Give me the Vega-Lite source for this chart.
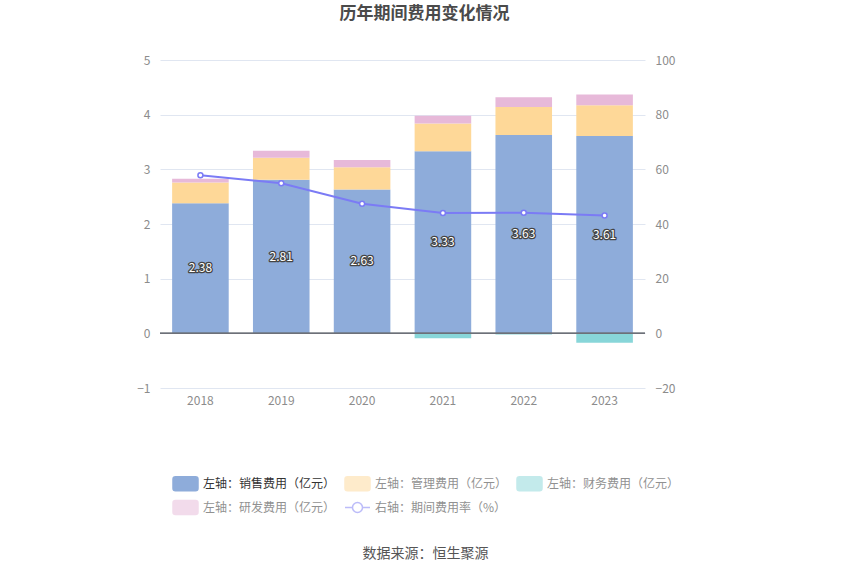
{
  "$schema": "https://vega.github.io/schema/vega-lite/v6.json",
  "width": 485,
  "height": 328,
  "autosize": "none",
  "padding": {"left": 160, "top": 60, "right": 205, "bottom": 187},
  "background": "white",
  "config": {"font": "Noto Sans CJK SC", "view": {"stroke": null}},
  "title": {"text": "历年期间费用变化情况", "fontSize": 17, "fontWeight": "bold", "color": "#4a4a4a", "anchor": "middle", "dx": 22, "offset": 31, "font": "Noto Sans CJK SC"},
  "datasets": {
    "costs": [
      {"year": "2018", "series": "左轴：销售费用（亿元）", "value": 2.38},
      {"year": "2018", "series": "左轴：管理费用（亿元）", "value": 0.38},
      {"year": "2018", "series": "左轴：财务费用（亿元）", "value": -0.01},
      {"year": "2018", "series": "左轴：研发费用（亿元）", "value": 0.07},
      {"year": "2019", "series": "左轴：销售费用（亿元）", "value": 2.81},
      {"year": "2019", "series": "左轴：管理费用（亿元）", "value": 0.40},
      {"year": "2019", "series": "左轴：财务费用（亿元）", "value": -0.005},
      {"year": "2019", "series": "左轴：研发费用（亿元）", "value": 0.13},
      {"year": "2020", "series": "左轴：销售费用（亿元）", "value": 2.63},
      {"year": "2020", "series": "左轴：管理费用（亿元）", "value": 0.41},
      {"year": "2020", "series": "左轴：财务费用（亿元）", "value": 0.0},
      {"year": "2020", "series": "左轴：研发费用（亿元）", "value": 0.13},
      {"year": "2021", "series": "左轴：销售费用（亿元）", "value": 3.33},
      {"year": "2021", "series": "左轴：管理费用（亿元）", "value": 0.51},
      {"year": "2021", "series": "左轴：财务费用（亿元）", "value": -0.09},
      {"year": "2021", "series": "左轴：研发费用（亿元）", "value": 0.14},
      {"year": "2022", "series": "左轴：销售费用（亿元）", "value": 3.63},
      {"year": "2022", "series": "左轴：管理费用（亿元）", "value": 0.51},
      {"year": "2022", "series": "左轴：财务费用（亿元）", "value": -0.02},
      {"year": "2022", "series": "左轴：研发费用（亿元）", "value": 0.18},
      {"year": "2023", "series": "左轴：销售费用（亿元）", "value": 3.61},
      {"year": "2023", "series": "左轴：管理费用（亿元）", "value": 0.56},
      {"year": "2023", "series": "左轴：财务费用（亿元）", "value": -0.17},
      {"year": "2023", "series": "左轴：研发费用（亿元）", "value": 0.20}
    ],
    "rate": [
      {"year": "2018", "rate": 57.8},
      {"year": "2019", "rate": 54.9},
      {"year": "2020", "rate": 47.4},
      {"year": "2021", "rate": 44.0},
      {"year": "2022", "rate": 44.1},
      {"year": "2023", "rate": 43.1}
    ]
  },
  "layer": [
    {
      "layer": [
        {
          "data": {"name": "costs"},
          "mark": {"type": "bar"},
          "encoding": {
            "x": {"field": "year", "type": "nominal", "scale": {"paddingInner": 0.3, "paddingOuter": 0.15},
              "axis": {"orient": "bottom", "domain": false, "ticks": false, "labelAngle": 0, "labelColor": "#8c8c8c", "labelFontSize": 12, "labelPadding": 7,
                "title": "数据来源：恒生聚源", "titleFontSize": 14, "titleFontWeight": "normal", "titleColor": "#555555", "titleX": 265, "titleY": 165, "titleBaseline": "middle", "titleAnchor": "middle", "titleAlign": "center"}},
            "y": {"field": "value", "type": "quantitative", "stack": "zero", "scale": {"domain": [-1, 5], "nice": false},
              "axis": {"orient": "left", "values": [-1, 0, 1, 2, 3, 4, 5], "domain": false, "ticks": false, "grid": true, "gridColor": "#e0e6f1", "labelColor": "#8c8c8c", "labelFontSize": 12, "labelPadding": 10, "title": null}},
            "color": {"field": "series", "type": "nominal",
              "sort": ["左轴：销售费用（亿元）", "左轴：管理费用（亿元）", "左轴：财务费用（亿元）", "左轴：研发费用（亿元）", "右轴：期间费用率（%）"],
              "scale": {"domain": ["左轴：销售费用（亿元）", "左轴：管理费用（亿元）", "左轴：财务费用（亿元）", "左轴：研发费用（亿元）", "右轴：期间费用率（%）"],
                "range": ["#8eacda", "#fed898", "#88d6d9", "#e7b9d9", "#7b7bf5"]},
              "legend": {"orient": "none", "legendX": 12, "legendY": 410, "direction": "horizontal", "columns": 3, "symbolSize": 625,
                "labelFontSize": 12, "labelOffset": 4, "columnPadding": 6, "rowPadding": 0, "title": null, "labelLimit": 300,
                "encode": {
                  "symbols": {"update": {
                    "shape": {"signal": "datum.value === '右轴：期间费用率（%）' ? 'M-1,0H-0.4M0.4,0H1M0.4,0A0.4,0.4,0,1,1,-0.4,0A0.4,0.4,0,1,1,0.4,0' : 'M-0.8,-0.56H0.8A0.2,0.2,0,0,1,1,-0.36V0.36A0.2,0.2,0,0,1,0.8,0.56H-0.8A0.2,0.2,0,0,1,-1,0.36V-0.36A0.2,0.2,0,0,1,-0.8,-0.56Z'"},
                    "opacity": {"signal": "datum.value === '左轴：销售费用（亿元）' ? 1 : 0.5"},
                    "fillOpacity": {"signal": "datum.value === '右轴：期间费用率（%）' ? 0 : 1"},
                    "strokeWidth": {"value": 1.5}
                  }},
                  "labels": {"update": {
                    "fill": {"signal": "datum.value === '左轴：销售费用（亿元）' ? '#333333' : '#919191'"}
                  }}
                }}
            }
          }
        },
        {
          "data": {"name": "costs"},
          "transform": [{"filter": "datum.series === '左轴：销售费用（亿元）'"}, {"calculate": "datum.value / 2", "as": "mid"}],
          "mark": {"type": "text", "fontSize": 12, "fill": "#444444", "stroke": "#444444", "strokeWidth": 2.5, "strokeJoin": "round"},
          "encoding": {
            "x": {"field": "year", "type": "nominal"},
            "y": {"field": "mid", "type": "quantitative", "scale": {"domain": [-1, 5], "nice": false},
              "axis": {"orient": "left", "values": [-1, 0, 1, 2, 3, 4, 5], "domain": false, "ticks": false, "grid": true, "gridColor": "#e0e6f1", "labelColor": "#8c8c8c", "labelFontSize": 12, "labelPadding": 10, "title": null}},
            "text": {"field": "value", "type": "quantitative", "format": ".2f"}
          }
        },
        {
          "data": {"name": "costs"},
          "transform": [{"filter": "datum.series === '左轴：销售费用（亿元）'"}, {"calculate": "datum.value / 2", "as": "mid"}],
          "mark": {"type": "text", "fontSize": 12, "fill": "#ffffff"},
          "encoding": {
            "x": {"field": "year", "type": "nominal"},
            "y": {"field": "mid", "type": "quantitative", "scale": {"domain": [-1, 5], "nice": false},
              "axis": {"orient": "left", "values": [-1, 0, 1, 2, 3, 4, 5], "domain": false, "ticks": false, "grid": true, "gridColor": "#e0e6f1", "labelColor": "#8c8c8c", "labelFontSize": 12, "labelPadding": 10, "title": null}},
            "text": {"field": "value", "type": "quantitative", "format": ".2f"}
          }
        },
        {
          "data": {"name": "rate"},
          "mark": {"type": "rule", "color": "#6e7079", "strokeWidth": 1},
          "encoding": {"y": {"datum": 0, "type": "quantitative",
            "axis": {"orient": "left", "values": [-1, 0, 1, 2, 3, 4, 5], "domain": false, "ticks": false, "grid": true, "gridColor": "#e0e6f1", "labelColor": "#8c8c8c", "labelFontSize": 12, "labelPadding": 10, "title": null}}}
        }
      ]
    },
    {
      "data": {"name": "rate"},
      "layer": [
        {
          "mark": {"type": "line", "strokeWidth": 2},
          "encoding": {
            "x": {"field": "year", "type": "nominal"},
            "y": {"field": "rate", "type": "quantitative", "scale": {"domain": [-20, 100], "nice": false},
              "axis": {"orient": "right", "values": [-20, 0, 20, 40, 60, 80, 100], "domain": false, "ticks": false, "grid": false, "labelColor": "#8c8c8c", "labelFontSize": 12, "labelPadding": 10, "title": null}},
            "color": {"datum": "右轴：期间费用率（%）", "legend": null}
          }
        },
        {
          "mark": {"type": "point", "filled": true, "fill": "#ffffff", "stroke": "#7b7bf5", "strokeWidth": 1.5, "size": 25, "opacity": 1},
          "encoding": {
            "x": {"field": "year", "type": "nominal"},
            "y": {"field": "rate", "type": "quantitative", "scale": {"domain": [-20, 100], "nice": false},
              "axis": {"orient": "right", "values": [-20, 0, 20, 40, 60, 80, 100], "domain": false, "ticks": false, "grid": false, "labelColor": "#8c8c8c", "labelFontSize": 12, "labelPadding": 10, "title": null}}
          }
        }
      ]
    }
  ],
  "resolve": {"scale": {"y": "independent"}}
}
